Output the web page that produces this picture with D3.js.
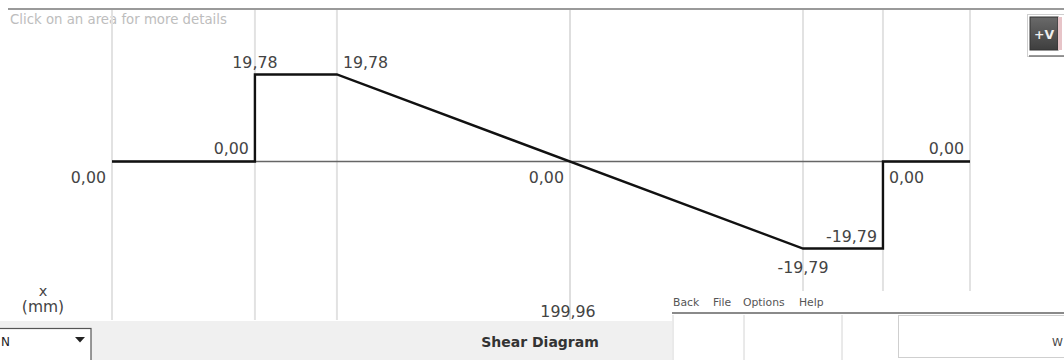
<!DOCTYPE html>
<html><head><meta charset="utf-8">
<script src="https://cdn.jsdelivr.net/npm/d3@7/dist/d3.min.js"></script>
<style>
html,body{margin:0;padding:0;background:#fff;}
svg{display:block;}
text{font-family:"DejaVu Sans",Verdana,sans-serif;}
</style></head>
<body>
<svg id="c" width="1064" height="360"></svg>
<script>
// ---- data ----
const positions = [0, 62.4, 62.4, 98.2, 301.7, 336.6, 336.6, 374.6];   // x (mm)
const shear     = [0, 0, 19.78, 19.78, -19.79, -19.79, 0, 0];          // V
const gridX     = [0, 62.4, 98.2, 199.96, 301.7, 336.6, 374.6];
const xTickLabels = [{x:199.96, label:"199,96"}];
const valueLabels = [
  {x:0,     v:0,      text:"0,00",   pos:"leftBelow"},
  {x:62.4,  v:0,      text:"0,00",   pos:"leftAbove"},
  {x:62.4,  v:19.78,  text:"19,78",  pos:"centerAbove"},
  {x:98.2,  v:19.78,  text:"19,78",  pos:"rightAbove"},
  {x:199.96,v:0,      text:"0,00",   pos:"leftBelow"},
  {x:301.7, v:-19.79, text:"-19,79", pos:"centerBelow"},
  {x:336.6, v:-19.79, text:"-19,79", pos:"leftAbove"},
  {x:336.6, v:0,      text:"0,00",   pos:"rightBelow"},
  {x:374.6, v:0,      text:"0,00",   pos:"leftAbove"}
];
const title = "Shear Diagram";
const hint = "Click on an area for more details";
const menuItems = ["Back","File","Options","Help"];

const svg = d3.select("#c");
const x = d3.scaleLinear().domain([0, 374.6]).range([112, 970]);
const y = d3.scaleLinear().domain([-19.79, 19.78]).range([248.5, 74.5]);

// top border
svg.append("line").attr("x1",8).attr("x2",1064).attr("y1",9).attr("y2",9)
  .attr("stroke","#9a9a9a").attr("stroke-width",2);

// hint
svg.append("text").attr("x",10).attr("y",24).attr("font-size",13.3)
  .attr("fill","#bdbdbd").text(hint);

// vertical grid lines
svg.selectAll("line.grid").data(gridX).enter().append("line")
  .attr("class","grid")
  .attr("x1",d=>x(d)).attr("x2",d=>x(d))
  .attr("y1",10).attr("y2",320)
  .attr("stroke",d=>d===199.96?"#c8c8c8":"#e2e2e2")
  .attr("stroke-width",d=>d===199.96?1.2:2);

// zero axis
svg.append("line").attr("x1",x(0)).attr("x2",x(374.6)).attr("y1",y(0)).attr("y2",y(0))
  .attr("stroke","#666").attr("stroke-width",1.5);

// shear line
const pts = positions.map((p,i)=>[p, shear[i]]);
svg.append("path").datum(pts)
  .attr("d", d3.line().x(d=>x(d[0])).y(d=>y(d[1])))
  .attr("fill","none").attr("stroke","#111").attr("stroke-width",2.4)
  .attr("stroke-linejoin","miter");

// value labels
const fs = 15.8;
valueLabels.forEach(l=>{
  let px = x(l.x), py = y(l.v), anchor="middle", tx=px, ty=py;
  switch(l.pos){
    case "centerAbove": anchor="middle"; ty=py-7; break;
    case "centerBelow": anchor="middle"; ty=py+24; break;
    case "rightAbove": anchor="start"; tx=px+6; ty=py-7; break;
    case "leftAbove": anchor="end"; tx=px-6; ty=py-7; break;
    case "leftBelow": anchor="end"; tx=px-6; ty=py+22; break;
    case "rightBelow": anchor="start"; tx=px+6; ty=py+22; break;
  }
  svg.append("text").attr("x",tx).attr("y",ty).attr("text-anchor",anchor)
    .attr("font-size",fs).attr("fill","#444").text(l.text);
});

// x axis label
svg.append("text").attr("x",43).attr("y",296).attr("text-anchor","middle")
  .attr("font-size",14.5).attr("fill","#444").text("x");
svg.append("text").attr("x",43).attr("y",312).attr("text-anchor","middle")
  .attr("font-size",15.5).attr("fill","#444").text("(mm)");

// x tick labels
svg.selectAll("text.xt").data(xTickLabels).enter().append("text")
  .attr("class","xt").attr("x",d=>x(d.x)-2).attr("y",317).attr("text-anchor","middle")
  .attr("font-size",fs).attr("fill","#444").text(d=>d.label);

// bottom panel
svg.append("rect").attr("x",0).attr("y",321).attr("width",672).attr("height",39).attr("fill","#f0f0f0");
svg.append("rect").attr("x",-2).attr("y",328.5).attr("width",93).attr("height",34)
  .attr("fill","#fff").attr("stroke","#555").attr("stroke-width",1.2);
svg.append("text").attr("x",1).attr("y",346).attr("font-size",12).attr("fill","#222").text("N");
svg.append("path").attr("d","M75,337 L85,337 L80,342.5 Z").attr("fill","#222");
svg.append("text").attr("x",540).attr("y",347).attr("text-anchor","middle")
  .attr("font-size",14).attr("font-weight","bold").attr("fill","#333").text(title);

// overlay window
svg.append("rect").attr("x",672).attr("y",291).attr("width",392).attr("height",69).attr("fill","#fff");
const mx = [673, 713, 743, 799];
menuItems.forEach((m,i)=>{
  svg.append("text").attr("x",mx[i]).attr("y",306).attr("font-size",10.8)
    .attr("fill","#555").text(m);
});
svg.append("line").attr("x1",672).attr("x2",1064).attr("y1",313).attr("y2",313)
  .attr("stroke","#8a8a8a").attr("stroke-width",2);
[673, 744, 842].forEach(v=>{
  svg.append("line").attr("x1",v).attr("x2",v).attr("y1",315).attr("y2",360)
    .attr("stroke","#d4d4d4").attr("stroke-width",1);
});
svg.append("rect").attr("x",898.5).attr("y",315.5).attr("width",170).attr("height",42)
  .attr("fill","#fff").attr("stroke","#cfcfcf");
svg.append("text").attr("x",1052).attr("y",346).attr("font-size",11).attr("fill","#444").text("W");

// +V button
svg.append("rect").attr("x",1027.5).attr("y",14.5).attr("width",40).attr("height",42)
  .attr("fill","#fff").attr("stroke","#cfcfcf");
const grad = svg.append("defs").append("linearGradient").attr("id","g").attr("x1",0).attr("y1",0).attr("x2",0).attr("y2",1);
grad.append("stop").attr("offset","0").attr("stop-color","#6a6a6a");
grad.append("stop").attr("offset","1").attr("stop-color","#3e3e3e");
svg.append("rect").attr("x",1030).attr("y",17).attr("width",28).attr("height",33)
  .attr("fill","url(#g)").attr("stroke","#333");
svg.append("rect").attr("x",1058).attr("y",17).attr("width",4).attr("height",33).attr("fill","#e7c4c8");
svg.append("text").attr("x",1044).attr("y",38.5).attr("text-anchor","middle")
  .attr("font-size",12.5).attr("font-weight","bold").attr("fill","#eee").text("+V");
svg.append("line").attr("x1",1029).attr("x2",1064).attr("y1",56).attr("y2",56)
  .attr("stroke","#777").attr("stroke-width",1.5);
</script>
</body></html>
